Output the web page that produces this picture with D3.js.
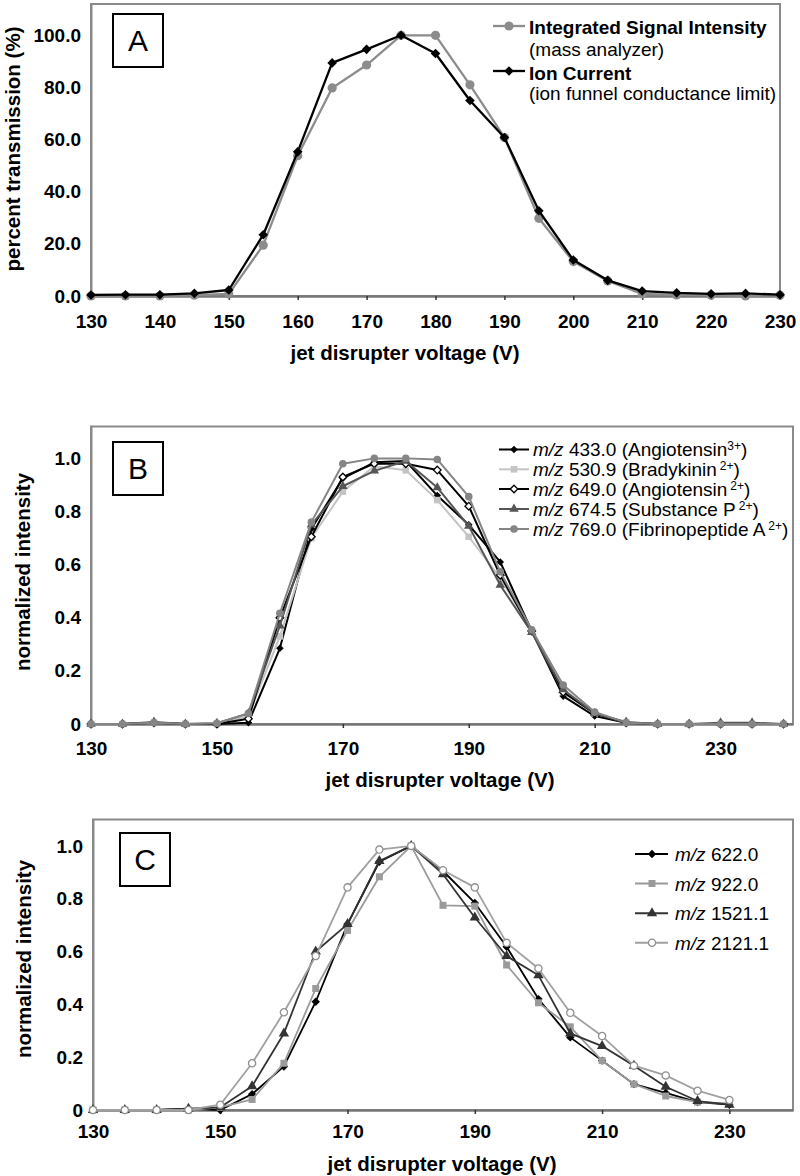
<!DOCTYPE html>
<html>
<head>
<meta charset="utf-8">
<script src="https://cdn.jsdelivr.net/npm/d3@7"></script>
<style>
  html, body { margin: 0; padding: 0; background: #fff; }
  svg { display: block; font-family: "Liberation Sans", Arial, sans-serif; }
</style>
</head>
<body>
<svg id="chart" width="800" height="1176"></svg>
<script>
// ---------- Panel A data ----------
const voltsA = [130,135,140,145,150,155,160,165,170,175,180,185,190,195,200,205,210,215,220,225,230];
const signalA = [0,0,0,0.3,0.8,19.5,53.8,79.8,88.6,100,100,81,60.8,29.8,13.2,5.8,0.8,0.4,0.3,0,0.3];
const ionA    = [0.4,0.5,0.5,1.0,2.3,23.5,55.3,89.4,94.6,100,93,75,60.8,32.7,13.8,6,1.9,1.2,0.8,1.0,0.5];
const ticksAX = [130,140,150,160,170,180,190,200,210,220,230];
const ticksAY = [0,20,40,60,80,100];

// ---------- Panel B data ----------
const voltsB = [130,135,140,145,150,155,160,165,170,175,180,185,190,195,200,205,210,215,220,225,230,235,240];
const b433  = [0,0,0.005,0,0,0.005,0.285,0.735,0.925,0.985,0.99,0.86,0.75,0.61,0.35,0.105,0.03,0.005,0,0,0,0,0];
const b530  = [0,0,0.005,0,0,0.03,0.33,0.70,0.875,0.97,0.955,0.843,0.705,0.55,0.35,0.12,0.04,0.005,0,0,0,0,0];
const b649  = [0,0,0.005,0,0,0.02,0.40,0.705,0.93,0.98,0.98,0.956,0.82,0.56,0.35,0.12,0.04,0.005,0,0,0,0,0];
const b674  = [0,0,0.008,0,0.003,0.04,0.37,0.75,0.895,0.953,0.99,0.89,0.745,0.523,0.345,0.13,0.04,0.008,0,0,0.005,0.005,0];
const b769  = [0,0,0.005,0,0.003,0.04,0.417,0.76,0.98,1.0,1.0,0.996,0.856,0.573,0.355,0.147,0.045,0.005,0,0,0,0,0];
const ticksBX = [130,150,170,190,210,230];
const ticksBY = [0,0.2,0.4,0.6,0.8,1.0];

// ---------- Panel C data ----------
const voltsC = [130,135,140,145,150,155,160,165,170,175,180,185,190,195,200,205,210,215,220,225,230];
const c622  = [0,0,0,0.005,0,0.06,0.165,0.41,0.704,0.94,1.0,0.905,0.784,0.618,0.42,0.275,0.187,0.098,0.065,0.03,0.02];
const c922  = [0,0,0,0,0.01,0.04,0.177,0.46,0.68,0.883,1.0,0.775,0.772,0.549,0.406,0.315,0.187,0.098,0.053,0.03,0.025];
const c1521 = [0,0,0,0.005,0.01,0.09,0.29,0.60,0.704,0.943,1.0,0.893,0.729,0.583,0.51,0.29,0.242,0.168,0.088,0.034,0.02];
const c2121 = [0,0,0,0,0.02,0.177,0.37,0.583,0.843,0.986,1.0,0.908,0.843,0.633,0.536,0.368,0.28,0.168,0.131,0.073,0.038];
const ticksCX = [130,150,170,190,210,230];
const ticksCY = [0,0.2,0.4,0.6,0.8,1.0];

const svg = d3.select("#chart");
const FRAME = "#8a8a8a";

function diamondPath(s) { // rotated square, s = half diagonal
  return `M0,${-s}L${s},0L0,${s}L${-s},0Z`;
}
function markerPath(type, s) {
  if (type === "diamond") return diamondPath(s);
  if (type === "circle") return d3.symbol(d3.symbolCircle, Math.PI * s * s)();
  if (type === "square") return d3.symbol(d3.symbolSquare, 4 * s * s)();
  if (type === "triangle") return d3.symbol(d3.symbolTriangle, s * s * 2.2)();
}

function drawPanel(cfg) {
  const g = svg.append("g");
  const x = cfg.x, y = cfg.y;
  const [x0, x1] = x.range();
  const [yb, yt] = y.range();
  // frame
  g.append("rect").attr("x", x0).attr("y", yt).attr("width", x1 - x0).attr("height", yb - yt)
    .attr("fill", "none").attr("stroke", FRAME).attr("stroke-width", 2);

  // x axis
  const xa = g.append("g").attr("transform", `translate(0,${yb})`)
    .call(d3.axisBottom(x).tickValues(cfg.ticksX).tickSize(4).tickSizeOuter(0).tickFormat(d3.format("d")));
  xa.select(".domain").attr("stroke", "#777").attr("stroke-width", 2.5);
  xa.selectAll(".tick line").attr("stroke", "#333").attr("stroke-width", 1.5);
  xa.selectAll(".tick text").attr("y", cfg.xLabelOffset).attr("dy", null)
    .attr("font-size", 19).attr("font-weight", "bold").attr("fill", "#000")
    .attr("font-family", '"Liberation Sans", Arial, sans-serif');

  // y axis
  const ya = g.append("g").attr("transform", `translate(${x0},0)`)
    .call(d3.axisLeft(y).tickValues(cfg.ticksY).tickSize(0).tickPadding(10).tickFormat(cfg.yFormat));
  ya.select(".domain").attr("stroke", FRAME).attr("stroke-width", 2);
  ya.selectAll(".tick text").attr("font-size", 19).attr("font-weight", "bold").attr("fill", "#000")
    .attr("font-family", '"Liberation Sans", Arial, sans-serif');

  // series
  const line = d3.line().x(d => x(d[0])).y(d => y(d[1]));
  cfg.series.forEach(s => {
    const pts = cfg.volts.map((v, i) => [v, s.values[i]]);
    g.append("path").attr("d", line(pts)).attr("fill", "none")
      .attr("stroke", s.line).attr("stroke-width", cfg.lw).attr("stroke-linejoin", "round");
    g.selectAll(null).data(pts).enter().append("path")
      .attr("transform", d => `translate(${x(d[0])},${y(d[1])})`)
      .attr("d", markerPath(s.marker, s.size))
      .attr("fill", s.fill).attr("stroke", s.stroke || "none").attr("stroke-width", s.stroke ? 1.3 : 0);
  });

  // panel letter box
  g.append("rect").attr("x", cfg.box[0]).attr("y", cfg.box[1]).attr("width", 50).attr("height", 53)
    .attr("fill", "#fff").attr("stroke", "#000").attr("stroke-width", 2);
  g.append("text").attr("x", cfg.box[0] + 25).attr("y", cfg.box[1] + 37).attr("text-anchor", "middle")
    .attr("font-size", 30).text(cfg.letter);

  // axis titles
  g.append("text").attr("x", cfg.xTitle[0]).attr("y", cfg.xTitle[1]).attr("text-anchor", "middle")
    .attr("font-size", 20.5).attr("font-weight", "bold").text("jet disrupter voltage (V)");
  g.append("text").attr("transform", `translate(${cfg.yTitle[0]},${cfg.yTitle[1]}) rotate(-90)`)
    .attr("text-anchor", "middle").attr("font-size", 20.5).attr("font-weight", "bold").text(cfg.yTitleText);
  return g;
}

// ---------- Panel A ----------
const xA = d3.scaleLinear([130, 230], [91, 780]);
const yA = d3.scaleLinear([0, 112], [296, 4]);
const gA = drawPanel({
  x: xA, y: yA, ticksX: ticksAX, ticksY: ticksAY, volts: voltsA, lw: 2.3,
  yFormat: d3.format(".1f"), xLabelOffset: 32,
  series: [
    {values: signalA, line: "#8c8c8c", marker: "circle", size: 4.6, fill: "#8c8c8c"},
    {values: ionA, line: "#000", marker: "diamond", size: 4.8, fill: "#000"}
  ],
  box: [113, 14], letter: "A",
  xTitle: [405, 360], yTitle: [20, 149], yTitleText: "percent transmission (%)"
});
// legend A
const legA = [
  {y: 26, color: "#8c8c8c", marker: "circle", size: 4.6, title: "Integrated Signal Intensity", sub: "(mass analyzer)", ty: 34, sy: 56},
  {y: 71, color: "#000", marker: "diamond", size: 4.8, title: "Ion Current", sub: "(ion funnel conductance limit)", ty: 80, sy: 100}
];
legA.forEach(l => {
  gA.append("line").attr("x1", 493).attr("x2", 525).attr("y1", l.y).attr("y2", l.y)
    .attr("stroke", l.color).attr("stroke-width", 2.3);
  gA.append("path").attr("transform", `translate(509,${l.y})`).attr("d", markerPath(l.marker, l.size)).attr("fill", l.color);
  gA.append("text").attr("x", 529).attr("y", l.ty).attr("font-size", 19).attr("font-weight", "bold").text(l.title);
  gA.append("text").attr("x", 529).attr("y", l.sy).attr("font-size", 19).text(l.sub);
});

// ---------- Panel B ----------
const xB = d3.scaleLinear([130, 241.5], [91, 793]);
const yB = d3.scaleLinear([0, 1.12], [724, 426.5]);
const fmtN = d => d === 0 ? "0" : d3.format(".1f")(d);
const seriesB = [
  {values: b433, line: "#000", marker: "diamond", size: 3.8, fill: "#000",
   mz: "433.0", name: "(Angiotensin", sup: "3+", gap: 0},
  {values: b530, line: "#c4c4c4", marker: "square", size: 3.3, fill: "#c4c4c4",
   mz: "530.9", name: "(Bradykinin", sup: "2+", gap: 3},
  {values: b649, line: "#000", marker: "diamond", size: 3.8, fill: "#fff", stroke: "#000",
   mz: "649.0", name: "(Angiotensin", sup: "2+", gap: 3},
  {values: b674, line: "#555", marker: "triangle", size: 4.2, fill: "#555",
   mz: "674.5", name: "(Substance P", sup: "2+", gap: 3},
  {values: b769, line: "#858585", marker: "circle", size: 3.8, fill: "#858585",
   mz: "769.0", name: "(Fibrinopeptide A", sup: "2+", gap: 3}
];
const gB = drawPanel({
  x: xB, y: yB, ticksX: ticksBX, ticksY: ticksBY, volts: voltsB, lw: 2,
  yFormat: fmtN, xLabelOffset: 31,
  series: seriesB,
  box: [113, 442], letter: "B",
  xTitle: [440, 787], yTitle: [30, 572], yTitleText: "normalized intensity"
});
const legBy = [449.5, 469.3, 489, 509, 529];
seriesB.forEach((s, i) => {
  const yy = legBy[i];
  gB.append("line").attr("x1", 499).attr("x2", 529).attr("y1", yy).attr("y2", yy)
    .attr("stroke", s.line).attr("stroke-width", 2);
  gB.append("path").attr("transform", `translate(514,${yy})`).attr("d", markerPath(s.marker, s.size))
    .attr("fill", s.fill).attr("stroke", s.stroke || "none").attr("stroke-width", s.stroke ? 1.3 : 0);
  const t = gB.append("text").attr("x", 533).attr("y", yy + 6.5).attr("font-size", 19);
  t.append("tspan").attr("font-style", "italic").text("m/z");
  t.append("tspan").text(" " + s.mz + " " + s.name);
  t.append("tspan").attr("font-size", 12).attr("dx", s.gap).attr("dy", -6).text(s.sup);
  t.append("tspan").attr("dy", 6).text(")");
});

// ---------- Panel C ----------
const xC = d3.scaleLinear([130, 240], [93, 793]);
const yC = d3.scaleLinear([0, 1.1], [1110, 819.5]);
const seriesC = [
  {values: c622, line: "#000", marker: "diamond", size: 4.2, fill: "#000", mz: "622.0"},
  {values: c922, line: "#9a9a9a", marker: "square", size: 3.5, fill: "#9a9a9a", mz: "922.0"},
  {values: c1521, line: "#333", marker: "triangle", size: 4.6, fill: "#333", mz: "1521.1"},
  {values: c2121, line: "#a0a0a0", marker: "circle", size: 3.6, fill: "#fff", stroke: "#909090", mz: "2121.1"}
];
const gC = drawPanel({
  x: xC, y: yC, ticksX: ticksCX, ticksY: ticksCY, volts: voltsC, lw: 1.8,
  yFormat: fmtN, xLabelOffset: 28,
  series: seriesC,
  box: [120, 833], letter: "C",
  xTitle: [442, 1171], yTitle: [31, 959], yTitleText: "normalized intensity"
});
const legCy = [854, 883.5, 913.3, 942.7];
seriesC.forEach((s, i) => {
  const yy = legCy[i];
  gC.append("line").attr("x1", 635).attr("x2", 668).attr("y1", yy).attr("y2", yy)
    .attr("stroke", s.line).attr("stroke-width", 2);
  gC.append("path").attr("transform", `translate(652,${yy})`).attr("d", markerPath(s.marker, s.size))
    .attr("fill", s.fill).attr("stroke", s.stroke || "none").attr("stroke-width", s.stroke ? 1.3 : 0);
  const t = gC.append("text").attr("x", 675).attr("y", yy + 7).attr("font-size", 19);
  t.append("tspan").attr("font-style", "italic").text("m/z");
  t.append("tspan").text(" " + s.mz);
});
</script>
</body>
</html>
